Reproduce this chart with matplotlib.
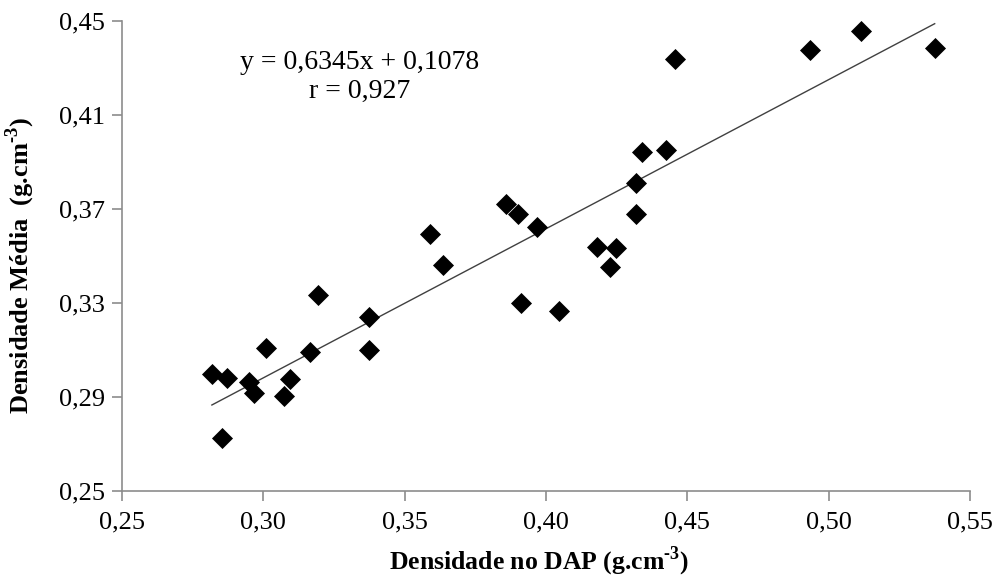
import numpy as np
import matplotlib.pyplot as plt

plt.rcParams['font.family'] = ['Liberation Serif', 'DejaVu Serif']
plt.rcParams['mathtext.fontset'] = 'custom'
plt.rcParams['mathtext.rm'] = 'Liberation Serif:bold'
plt.rcParams['mathtext.bf'] = 'Liberation Serif:bold'

# densidade no DAP (x) e densidade media (y)
dap = [0.2818, 0.2871, 0.2855, 0.2950, 0.2967, 0.3008, 0.3095, 0.3072, 0.3166, 0.3195,
       0.3373, 0.3373, 0.3590, 0.3635, 0.3859, 0.3902, 0.3967, 0.3911, 0.4045, 0.4179,
       0.4246, 0.4226, 0.4317, 0.4317, 0.4341, 0.4424, 0.4456, 0.4934, 0.5116, 0.5375]
media = [0.2997, 0.2982, 0.2727, 0.2965, 0.2918, 0.3108, 0.2975, 0.2904, 0.3091, 0.3333,
         0.3242, 0.3100, 0.3595, 0.3463, 0.3721, 0.3677, 0.3622, 0.3299, 0.3266, 0.3540,
         0.3533, 0.3452, 0.3677, 0.3811, 0.3944, 0.3951, 0.4337, 0.4377, 0.4459, 0.4386]

slope, intercept = 0.6345, 0.1078
xticks = [0.25, 0.30, 0.35, 0.40, 0.45, 0.50, 0.55]
yticks = [0.25, 0.29, 0.33, 0.37, 0.41, 0.45]

fig = plt.figure(figsize=(9.95, 5.78), dpi=100)
ax = fig.add_axes([0.1226, 0.1505, 0.8523, 0.8132])

ax.scatter(dap, media, marker='D', s=115, color='black', zorder=3, linewidths=0)
xl = np.array([min(dap), max(dap)])
ax.plot(xl, slope * xl + intercept, color='#404040', lw=1)

ax.set_xlim(0.25, 0.55)
ax.set_ylim(0.25, 0.45)
ax.set_xticks(xticks)
ax.set_yticks(yticks)
ax.set_xticklabels([f'{v:.2f}'.replace('.', ',') for v in xticks])
ax.set_yticklabels([f'{v:.2f}'.replace('.', ',') for v in yticks])

for s in ['top', 'right']:
    ax.spines[s].set_visible(False)
for s in ['left', 'bottom']:
    ax.spines[s].set_color('#8c8c8c')
    ax.spines[s].set_linewidth(1.2)
ax.tick_params(length=7, width=1.2, color='#8c8c8c', labelsize=19, pad=5)
ax.tick_params(axis='x', pad=8)

sup = r'$^{\text{-}3}$'
fig.text(539 / 995, 1 - 561 / 578, 'Densidade no DAP (g.cm' + sup + ')',
         fontsize=18.5, fontweight='bold', ha='center', va='center')
fig.text(20 / 995, 1 - 265 / 578, 'Densidade Média  (g.cm' + sup + ')',
         fontsize=19, fontweight='bold', ha='center', va='center', rotation=90)

fig.text(360 / 995, 1 - 77 / 578, 'y = 0,6345x + 0,1078\nr = 0,927', fontsize=20,
         ha='center', va='center', linespacing=1.2)

fig.savefig('out.png', dpi=100)
